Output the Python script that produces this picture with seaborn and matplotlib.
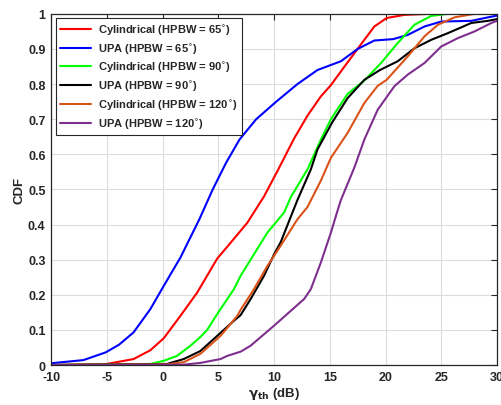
import numpy as np
import pandas as pd
import matplotlib
matplotlib.use("Agg")
import matplotlib.pyplot as plt
import seaborn as sns

# ---- data ----
labels = [
    r"Cylindrical (HPBW = 65$^{\circ}$)",
    r"UPA (HPBW = 65$^{\circ}$)",
    r"Cylindrical (HPBW = 90$^{\circ}$)",
    r"UPA (HPBW = 90$^{\circ}$)",
    r"Cylindrical (HPBW = 120$^{\circ}$)",
    r"UPA (HPBW = 120$^{\circ}$)",
]
colors = ["#FF0000", "#0000FF", "#00FF00", "#000000", "#D95319", "#7E2F8E"]

cyl65_x = [-10, -5, -2.6, -1.1, 0.1, 1.6, 3.1, 4.9, 6.1, 7.6, 9.1, 10.3, 11.8, 13.0, 14.2,
           15.1, 16.6, 18.1, 19.0, 20.1, 21.7, 24, 30]
cyl65_y = [0.0, 0.003, 0.017, 0.042, 0.076, 0.14, 0.206, 0.303, 0.348, 0.405, 0.48, 0.552,
           0.645, 0.71, 0.765, 0.797, 0.862, 0.926, 0.964, 0.988, 0.997, 1.0, 1.0]

upa65_x = [-10, -7.1, -5.1, -3.9, -2.6, -1.1, 0.1, 1.6, 3.3, 4.5, 5.7, 6.9, 8.4, 10.2,
           12.1, 13.9, 16.0, 17.5, 19.0, 20.7, 22.0, 23.5, 25.0, 27.7, 29.2, 30]
upa65_y = [0.005, 0.014, 0.036, 0.058, 0.093, 0.159, 0.225, 0.306, 0.415, 0.50, 0.576,
           0.642, 0.70, 0.75, 0.80, 0.84, 0.865, 0.90, 0.924, 0.928, 0.94, 0.964, 0.978,
           0.98, 0.99, 0.995]

cyl90_x = [-10, -1.1, 0.1, 1.3, 2.5, 3.4, 4.0, 4.9, 6.4, 7.0, 7.9, 9.4, 10.9, 11.5, 13.0, 14.2,
           15.1, 16.6, 18.1, 19.6, 21.1, 22.6, 24.1, 25.6, 30]
cyl90_y = [0.0, 0.003, 0.012, 0.026, 0.055, 0.08, 0.10, 0.145, 0.216, 0.254, 0.30, 0.377, 0.434,
           0.478, 0.557, 0.642, 0.70, 0.772, 0.81, 0.86, 0.917, 0.969, 0.994, 1.0, 1.0]

upa90_x = [-10, 0.4, 1.9, 3.4, 4.9, 6.4, 7.0, 7.9, 9.1, 10.0, 10.6, 12.1, 13.3, 13.9,
           15.2, 16.6, 18.1, 19.5, 21.1, 22.6, 24.1, 25.6, 27.7, 29.2, 30]
upa90_y = [0.0, 0.003, 0.017, 0.04, 0.083, 0.126, 0.142, 0.188, 0.254, 0.315, 0.35, 0.47,
           0.557, 0.614, 0.69, 0.76, 0.812, 0.84, 0.865, 0.902, 0.926, 0.945, 0.974,
           0.98, 0.985]

cyl120_x = [-10, 0.4, 1.9, 3.4, 5.2, 6.7, 7.0, 8.2, 9.4, 10.6, 12.1, 13.0, 14.2, 15.1, 16.6,
            18.1, 19.3, 20.1, 22.0, 23.5, 24.7, 26.2, 28, 30]
cyl120_y = [0.0, 0.002, 0.008, 0.032, 0.083, 0.14, 0.157, 0.216, 0.282, 0.34, 0.415, 0.45,
            0.525, 0.59, 0.661, 0.746, 0.795, 0.812, 0.879, 0.936, 0.969, 0.99, 1.0, 1.0]

upa120_x = [-10, 1.9, 3.4, 5.2, 5.8, 7.0, 7.9, 10.0, 12.7, 13.3, 14.2, 15.1, 15.7, 16.0, 17.2,
            18.1, 19.3, 20.8, 22.0, 23.5, 25.0, 26.5, 28.0, 29.5, 30]
upa120_y = [0.0, 0.001, 0.006, 0.017, 0.026, 0.038, 0.055, 0.112, 0.188, 0.216, 0.292, 0.377,
            0.44, 0.47, 0.562, 0.642, 0.727, 0.794, 0.827, 0.86, 0.907, 0.931, 0.95, 0.974, 0.98]

xs = [cyl65_x, upa65_x, cyl90_x, upa90_x, cyl120_x, upa120_x]
ys = [cyl65_y, upa65_y, cyl90_y, upa90_y, cyl120_y, upa120_y]

x_ticks = [-10, -5, 0, 5, 10, 15, 20, 25, 30]
y_ticks = [0, 0.1, 0.2, 0.3, 0.4, 0.5, 0.6, 0.7, 0.8, 0.9, 1]
y_ticklabels = ["0", "0.1", "0.2", "0.3", "0.4", "0.5", "0.6", "0.7", "0.8", "0.9", "1"]

frames = []
for lab, x, y in zip(labels, xs, ys):
    frames.append(pd.DataFrame({"x": x, "y": y, "series": lab}))
df = pd.concat(frames, ignore_index=True)

# ---- style ----
sns.set_theme(style="white")
plt.rcParams["font.family"] = ["Liberation Sans", "DejaVu Sans"]
plt.rcParams["mathtext.fontset"] = "dejavusans"

fig = plt.figure(figsize=(5.01, 4.06), dpi=100)
ax = fig.add_axes([0.102, 0.0985, 0.890, 0.865])

sns.lineplot(data=df, x="x", y="y", hue="series", hue_order=labels,
             palette=dict(zip(labels, colors)), linewidth=1.5,
             estimator=None, sort=False, ax=ax)

ax.set_xlim(-10, 30)
ax.set_ylim(0, 1)
ax.set_xticks(x_ticks)
ax.set_xticklabels([str(t) for t in x_ticks])
ax.set_yticks(y_ticks)
ax.set_yticklabels(y_ticklabels)
ax.grid(True, color="#dcdcdc", linewidth=0.8)
ax.set_axisbelow(True)
for s in ax.spines.values():
    s.set_color("#262626")
    s.set_linewidth(0.9)
ax.tick_params(direction="in", length=4, width=0.8, top=True, right=True,
               colors="#262626", labelsize=9, pad=4)
for lbl in ax.get_xticklabels() + ax.get_yticklabels():
    lbl.set_fontweight("bold")

ax.set_xlabel(r"$\mathbf{\gamma_{th}}$ (dB)", fontsize=9.5, fontweight="bold", labelpad=2)
ax.set_ylabel("CDF", fontsize=9.5, fontweight="bold", labelpad=2)

handles, labs = ax.get_legend_handles_labels()
leg = ax.legend(handles, labs, loc="upper left", frameon=True, fancybox=False,
                edgecolor="#262626", framealpha=1, borderaxespad=0.4,
                prop={"weight": "bold", "size": 8}, handlelength=2.8,
                handletextpad=0.6, labelspacing=0.42, borderpad=0.4)
leg.get_frame().set_linewidth(0.8)

fig.savefig("out.png", dpi=100)
